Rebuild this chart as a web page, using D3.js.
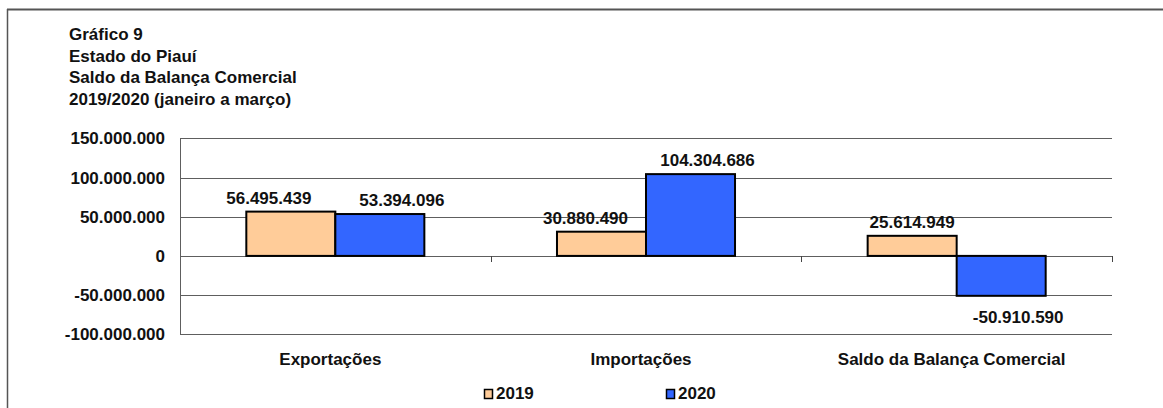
<!DOCTYPE html>
<html>
<head>
<meta charset="utf-8">
<script src="https://cdn.jsdelivr.net/npm/d3@7/dist/d3.min.js"></script>
<style>
  html, body { margin: 0; padding: 0; background: #fff; }
  svg text { font-family: "Liberation Sans", Arial, Helvetica, sans-serif; font-weight: bold; font-size: 17px; fill: #111; }
</style>
</head>
<body>
<svg id="chart" width="1163" height="408"></svg>
<script>
// Balança comercial do Piauí, janeiro a março
const categories = ["Exportações", "Importações", "Saldo da Balança Comercial"];
const seriesNames = ["2019", "2020"];
const values2019 = [56495439, 30880490, 25614949];
const values2020 = [53394096, 104304686, -50910590];
const yTicks = [-100000000, -50000000, 0, 50000000, 100000000, 150000000];
const titleLines = ["Gráfico 9", "Estado do Piauí", "Saldo da Balança Comercial", "2019/2020 (janeiro a março)"];

const colors = { "2019": "#FFCC99", "2020": "#3366FF" };

const locale = d3.formatLocale({ decimal: ",", thousands: ".", grouping: [3], currency: ["R$", ""], minus: "-" });
const fmt = locale.format(",d");

const svg = d3.select("#chart");

// outer frame (left and top edges visible)
svg.append("line").attr("x1", 7.5).attr("x2", 7.5).attr("y1", 9).attr("y2", 408)
  .attr("stroke", "#555").attr("stroke-width", 1.5);
svg.append("line").attr("x1", 7).attr("x2", 1163).attr("y1", 9.5).attr("y2", 9.5)
  .attr("stroke", "#555").attr("stroke-width", 2);

// title block
svg.append("g").selectAll("text").data(titleLines).join("text")
  .attr("x", 69).attr("y", (d, i) => 40 + i * 21.5)
  .text(d => d);

const plot = { left: 180, right: 1112, top: 138.3, bottom: 334.3 };

const y = d3.scaleLinear().domain([-100000000, 150000000]).range([plot.bottom, plot.top]);
const x0 = d3.scaleBand().domain(categories).range([plot.left, plot.right]).padding(0);
const x1 = d3.scaleBand().domain(seriesNames).range([0, x0.bandwidth()])
  .paddingInner(0).paddingOuter(0.745);

// horizontal gridlines
svg.append("g").selectAll("line").data(yTicks).join("line")
  .attr("x1", plot.left).attr("x2", plot.right)
  .attr("y1", d => Math.round(y(d)) + 0.5).attr("y2", d => Math.round(y(d)) + 0.5)
  .attr("stroke", "#5e5e5e").attr("stroke-width", 1);

// y axis line
svg.append("line").attr("x1", plot.left + 0.5).attr("x2", plot.left + 0.5)
  .attr("y1", Math.round(y(150000000))).attr("y2", Math.round(y(-100000000)) + 1)
  .attr("stroke", "#5e5e5e");

// y tick labels
svg.append("g").selectAll("text").data(yTicks).join("text")
  .attr("x", 165).attr("y", d => y(d)).attr("dy", "0.36em")
  .attr("text-anchor", "end")
  .text(d => fmt(d));

// category separators on the zero line
const sepX = categories.map(c => x0(c)).concat([plot.right]);
svg.append("g").selectAll("line").data(sepX.slice(1)).join("line")
  .attr("x1", d => Math.round(d) + 0.5).attr("x2", d => Math.round(d) + 0.5)
  .attr("y1", Math.round(y(0))).attr("y2", Math.round(y(0)) + 6)
  .attr("stroke", "#444");

// bars
const rows = categories.map((c, i) => ({ cat: c, vals: [values2019[i], values2020[i]] }));
const groups = svg.append("g").selectAll("g").data(rows).join("g")
  .attr("transform", d => `translate(${x0(d.cat)},0)`);

groups.selectAll("rect").data(d => d.vals.map((v, j) => ({ key: seriesNames[j], v })))
  .join("rect")
  .attr("x", d => x1(d.key))
  .attr("width", x1.bandwidth())
  .attr("y", d => y(Math.max(0, d.v)))
  .attr("height", d => Math.abs(y(d.v) - y(0)))
  .attr("fill", d => colors[d.key])
  .attr("stroke", "#000").attr("stroke-width", 2);

// value labels (nudged sideways a little, as placed in the original layout)
const labelNudge = { "2019": [-22, -16, 0], "2020": [22, 17, 17] };
groups.each(function (row, ci) {
  d3.select(this).selectAll("text.val")
    .data(row.vals.map((v, j) => ({ key: seriesNames[j], v })))
    .join("text").attr("class", "val")
    .attr("x", d => x1(d.key) + x1.bandwidth() / 2 + labelNudge[d.key][ci])
    .attr("y", d => d.v >= 0 ? y(d.v) - 8 : y(d.v) + 27)
    .attr("text-anchor", "middle")
    .text(d => fmt(d.v));
});

// category labels
svg.append("g").selectAll("text").data(categories).join("text")
  .attr("x", d => x0(d) + x0.bandwidth() / 2 - 5)
  .attr("y", 365)
  .attr("text-anchor", "middle")
  .text(d => d);

// legend
const legendX = { "2019": 484, "2020": 666 };
const lg = svg.append("g").selectAll("g").data(seriesNames).join("g")
  .attr("transform", d => `translate(${legendX[d]},389)`);
lg.append("rect").attr("x", 0.5).attr("y", 0.5).attr("width", 8).attr("height", 9)
  .attr("fill", d => colors[d]).attr("stroke", "#000").attr("stroke-width", 1.5);
lg.append("text").attr("x", 12).attr("y", 10).text(d => d);
</script>
</body>
</html>
